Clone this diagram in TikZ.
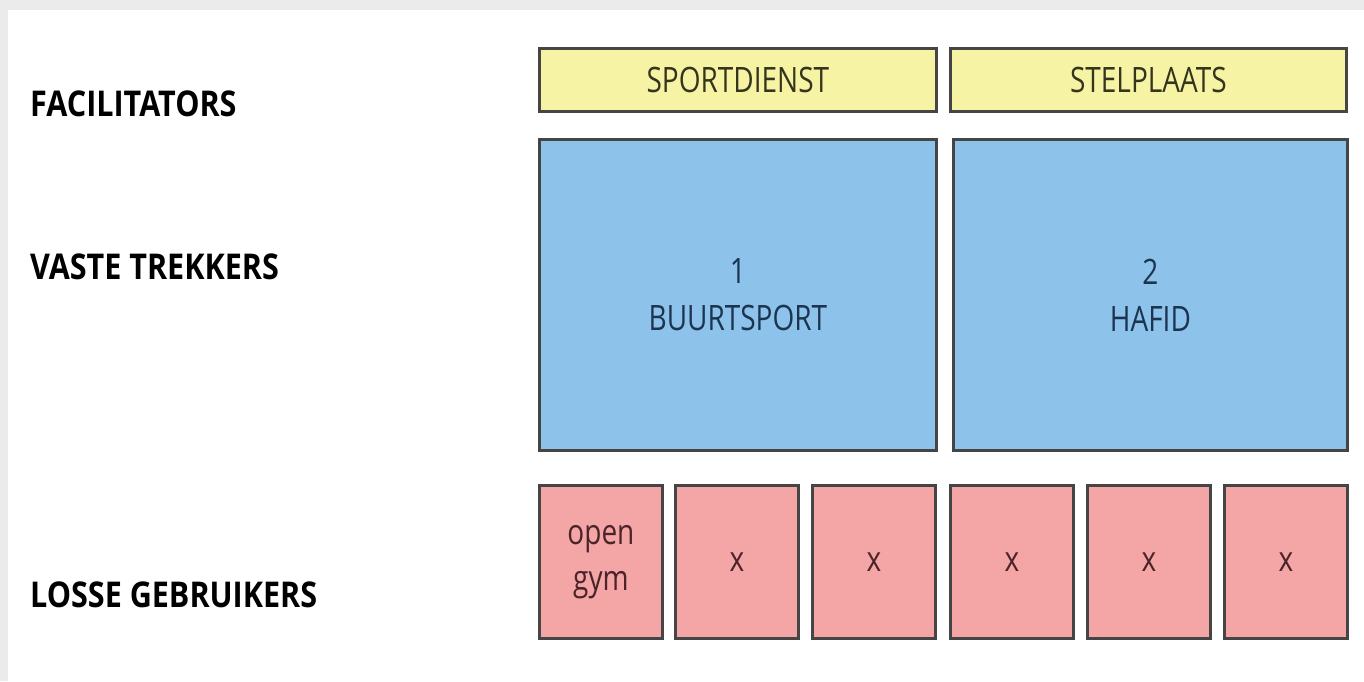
\documentclass[tikz,border=0pt]{standalone}
\usepackage{fontspec}
\setmainfont[FakeStretch=0.8]{Open Sans}
\newfontfamily\labelfont[FakeStretch=0.86]{Open Sans}
\definecolor{framegray}{HTML}{EBEBEB}
\definecolor{facfill}{HTML}{F6F4A4}
\definecolor{vastfill}{HTML}{8DC2EB}
\definecolor{lossfill}{HTML}{F4A5A6}
\definecolor{boxline}{HTML}{454545}
\definecolor{factext}{HTML}{35351E}
\definecolor{vasttext}{HTML}{1C3450}
\definecolor{losstext}{HTML}{4A2428}
\tikzset{
  rowlabel/.style={anchor=base west, inner sep=0pt, font=\labelfont\bfseries\fontsize{35.5}{42}\selectfont, text=black},
  facbox/.style={draw=boxline, line width=2.8pt, fill=facfill, text=factext, anchor=north west, inner sep=0pt, minimum height=63pt, font=\fontsize{35}{46}\selectfont},
  vastbox/.style={draw=boxline, line width=2.8pt, fill=vastfill, text=vasttext, anchor=north west, inner sep=0pt, minimum height=311pt, align=center, font=\fontsize{35}{47}\selectfont},
  lossbox/.style={draw=boxline, line width=2.8pt, fill=lossfill, text=losstext, anchor=north west, inner sep=0pt, minimum width=123pt, minimum height=153pt, align=center, font=\fontsize{35}{46}\selectfont}
}
\begin{document}
\begin{tikzpicture}[x=1pt,y=-1pt]
\useasboundingbox (0,0) rectangle (1364,681);
\fill[framegray] (0,0) rectangle (1364,681);
\fill[white] (8,10) rectangle (1364,681);

\node[rowlabel] (lfac) at (30,116) {FACILITATORS};
\node[rowlabel] (lvast) at (30,279) {VASTE TREKKERS};
\node[rowlabel] (lloss) at (30,607) {LOSSE GEBRUIKERS};

\node[facbox, minimum width=397pt] (sport) at (538,47) {SPORTDIENST};
\node[facbox, minimum width=396pt] (stel) at (949,47) {STELPLAATS};

\node[vastbox, minimum width=397pt] (buurt) at (538,138) {1\\BUURTSPORT};
\node[vastbox, minimum width=394pt] (hafid) at (952,138) {2\\HAFID};

\node[lossbox] (gym) at (538,484) {open\\gym};
\node[lossbox] (x1) at (674,484) {x};
\node[lossbox] (x2) at (811,484) {x};
\node[lossbox] (x3) at (949,484) {x};
\node[lossbox] (x4) at (1086,484) {x};
\node[lossbox] (x5) at (1223,484) {x};
\end{tikzpicture}
\end{document}
